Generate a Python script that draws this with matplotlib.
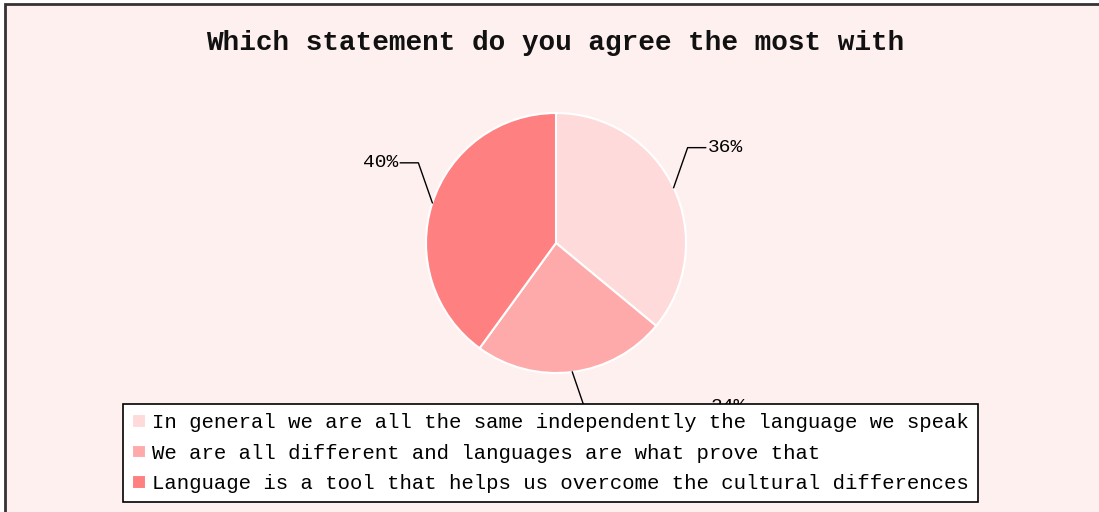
import numpy as np
import matplotlib
matplotlib.use('Agg')
import matplotlib.pyplot as plt
from matplotlib.patches import Rectangle

# survey answers
answers = [
    'In general we are all the same independently the language we speak',
    'We are all different and languages are what prove that',
    'Language is a tool that helps us overcome the cultural differences',
]
shares = [36, 24, 40]
colors = ['#FFDADA', '#FFAAAA', '#FF8080']
title = 'Which statement do you agree the most with'

W, H = 1099, 512
fig = plt.figure(figsize=(W / 100, H / 100), dpi=100, facecolor='white')
ax = fig.add_axes([0, 0, 1, 1])

# pink panel with a dark frame on top and left
ax.add_patch(Rectangle((5, -20), W + 20, H - 4 + 20, facecolor='#FFF0F0',
                       edgecolor='#333333', linewidth=2, zorder=0))

ax.text(555, H - 43, title, ha='center', va='center', fontsize=20,
        fontweight='bold', family='Liberation Mono', color='#111111')

cx, cy, r = 556, H - 243, 130
wedges, _ = ax.pie(shares, colors=colors, startangle=90, counterclock=False,
                   center=(cx, cy), radius=r, frame=True,
                   wedgeprops=dict(edgecolor='white', linewidth=1.5))
ax.set_xlim(0, W)
ax.set_ylim(0, H)
ax.set_aspect('equal')
ax.axis('off')

# percentage labels with bent leader lines
for w, val in zip(wedges, shares):
    mid = np.deg2rad((w.theta1 + w.theta2) / 2)
    ex, ey = cx + r * np.cos(mid), cy + r * np.sin(mid)
    side = 1 if np.cos(mid) >= 0 else -1
    up = 1 if np.sin(mid) >= 0 else -1
    if up > 0:
        kx, ky = ex + side * 14, ey + 40
        tx = kx + side * 18
    else:
        kx, ky = ex + side * 12, ey - 35
        tx = kx + side * 124
    ax.plot([ex, kx, tx], [ey, ky, ky], color='black', lw=1, zorder=3)
    ax.text(tx + side * 2, ky, '%d%%' % val, ha='left' if side > 0 else 'right',
            va='center', fontsize=14, family='Liberation Mono', zorder=3)

leg = ax.legend(wedges, answers, loc='upper left',
                bbox_to_anchor=(123 / W, 1 - 404 / H), bbox_transform=fig.transFigure,
                prop={'family': 'Liberation Mono', 'size': 14.9},
                handlelength=0.65, handleheight=0.65, handletextpad=0.3,
                borderpad=0.45, labelspacing=0.55, borderaxespad=0,
                fancybox=False, framealpha=1, edgecolor='black')
leg.get_frame().set_linewidth(1.2)
leg.set_zorder(5)

fig.savefig('out.png', dpi=100, facecolor='white')
